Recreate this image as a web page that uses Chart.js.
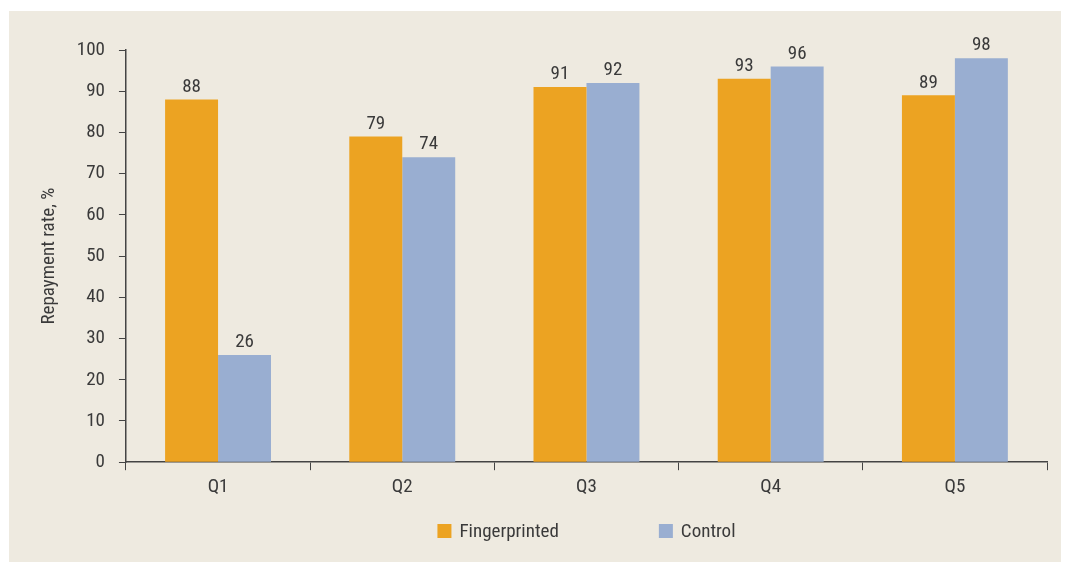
<!DOCTYPE html>
<html>
<head>
<meta charset="utf-8">
<script src="https://cdn.jsdelivr.net/npm/chart.js@4/dist/chart.umd.min.js"></script>
<style>
  html, body { margin: 0; padding: 0; background: #ffffff; }
  #wrap { position: absolute; left: 9px; top: 11px; width: 1052px; height: 551px; background: #eeeae0; }
</style>
</head>
<body>
<div id="wrap"><canvas id="myChart" width="1052" height="551"></canvas></div>
<script>
'use strict'

const categories = ['Q1', 'Q2', 'Q3', 'Q4', 'Q5'];
const fingerprinted = [88, 79, 91, 93, 89];
const control = [26, 74, 92, 96, 98];
const yTicks = [0, 10, 20, 30, 40, 50, 60, 70, 80, 90, 100];

const FONT = "'Liberation Sans Narrow', 'Roboto Condensed', 'Liberation Sans', sans-serif";
const INK = '#3a3a3a';
const SIZE = 19;

// value labels above each bar
const valueLabels = {
  id: 'valueLabels',
  afterDatasetsDraw(chart) {
    const ctx = chart.ctx;
    ctx.save();
    ctx.font = SIZE + 'px ' + FONT;
    ctx.fillStyle = INK;
    ctx.textAlign = 'center';
    ctx.textBaseline = 'bottom';
    chart.data.datasets.forEach((ds, i) => {
      chart.getDatasetMeta(i).data.forEach((bar, j) => {
        ctx.fillText(ds.data[j], bar.x, bar.y - 3);
      });
    });
    ctx.restore();
  }
};

// legend under the chart with wide spacing between items
const wideLegend = {
  id: 'wideLegend',
  afterDraw(chart) {
    const ctx = chart.ctx;
    const area = chart.chartArea;
    const gap = 100, box = 14, textGap = 8;
    ctx.save();
    ctx.font = SIZE + 'px ' + FONT;
    const items = chart.data.datasets.map(ds => ({
      label: ds.label, color: ds.backgroundColor,
      w: box + textGap + ctx.measureText(ds.label).width
    }));
    const total = items.reduce((s, it) => s + it.w, 0) + gap * (items.length - 1);
    let x = (area.left + area.right) / 2 - total / 2;
    const y = 520;
    items.forEach(it => {
      ctx.fillStyle = it.color;
      ctx.fillRect(x, y - box / 2, box, box);
      ctx.fillStyle = INK;
      ctx.textAlign = 'left';
      ctx.textBaseline = 'middle';
      ctx.fillText(it.label, x + box + textGap, y + 1);
      x += it.w + gap;
    });
    ctx.restore();
  }
};

function createChart() {
  const ctx = document.getElementById('myChart').getContext('2d');
  new Chart(ctx, {
    type: 'bar',
    data: {
      labels: categories,
      datasets: [
        {
          label: 'Fingerprinted',
          backgroundColor: '#eca322',
          data: fingerprinted,
        },
        {
          label: 'Control',
          backgroundColor: '#99aed1',
          data: control,
        },
      ],
    },
    options: {
      responsive: false,
      animation: false,
      datasets: {
        bar: { categoryPercentage: 0.575, barPercentage: 1.0 }
      },
      layout: { padding: { top: 39, right: 14, left: 25, bottom: 57 } },
      plugins: {
        tooltip: { enabled: false },
        legend: { display: false },
      },
      scales: {
        x: {
          grid: { drawOnChartArea: false, drawTicks: true, tickLength: 8, color: '#444' },
          border: { display: true, color: '#444', width: 1.5 },
          ticks: { font: { family: FONT, size: SIZE }, color: INK, padding: 6 },
        },
        y: {
          min: 0,
          max: 100,
          afterBuildTicks(axis) { axis.ticks = yTicks.map(v => ({ value: v })); },
          grid: { drawOnChartArea: false, drawTicks: true, tickLength: 7, color: '#444' },
          border: { display: true, color: '#444', width: 1.5 },
          ticks: { font: { family: FONT, size: SIZE }, color: INK, padding: 14 },
          title: {
            display: true,
            text: 'Repayment rate, %',
            font: { family: FONT, size: SIZE },
            color: INK,
            padding: { bottom: 2 },
          },
        },
      },
    },
    plugins: [valueLabels, wideLegend],
  });
}

createChart();
</script>
</body>
</html>
